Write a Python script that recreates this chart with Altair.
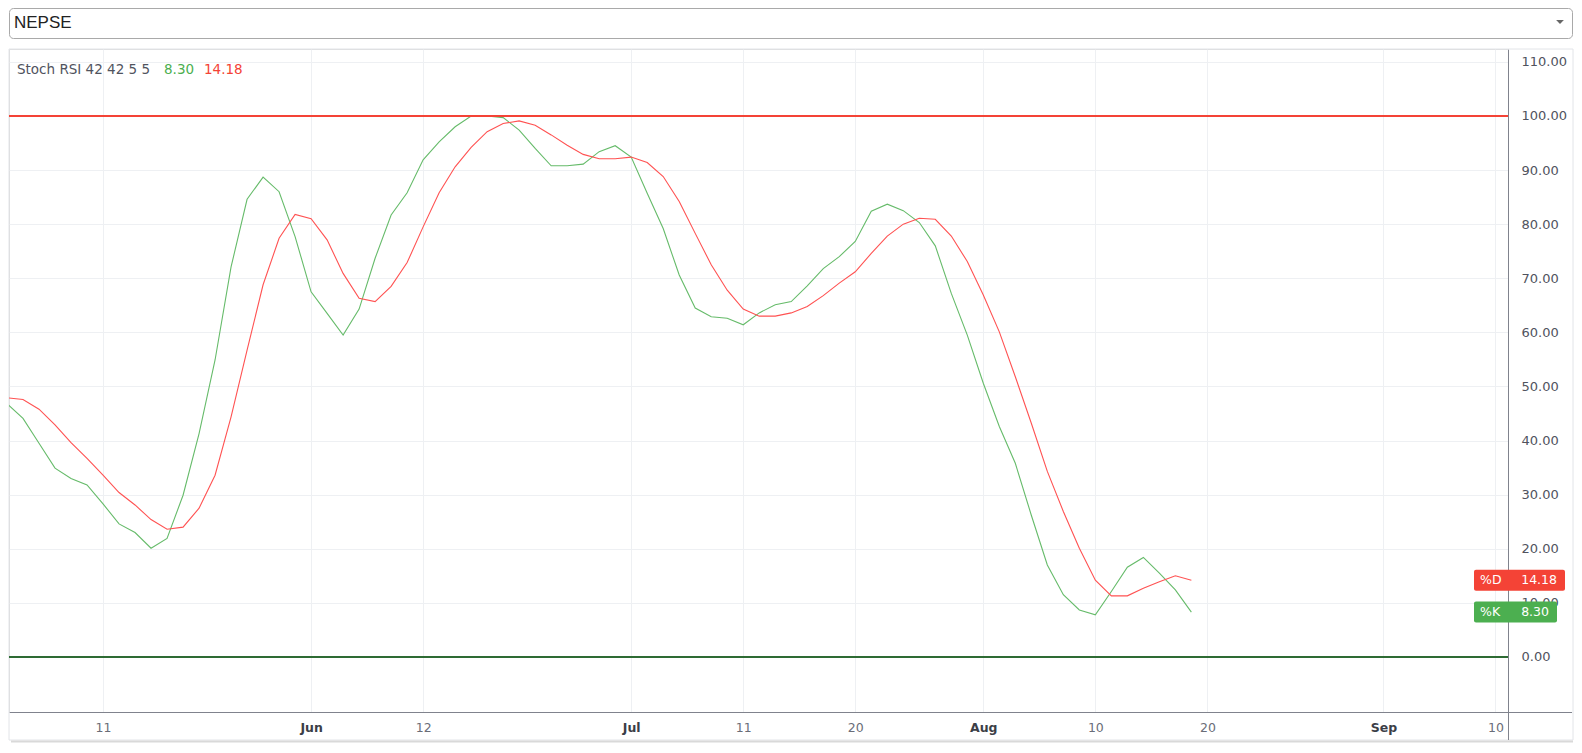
import altair as alt
import pandas as pd

# ---------------- data ----------------
symbol_name = "NEPSE"
indicator_title = "Stoch RSI 42 42 5 5"

k_values = [46.8, 44.1, 39.5, 34.9, 33.0, 31.8, 28.3, 24.6, 23.0, 20.1,
            21.9, 29.9, 41.3, 54.9, 72.1, 84.6, 88.7, 86.0, 77.7, 67.5,
            63.5, 59.5, 64.3, 73.7, 81.7, 85.8, 91.9, 95.2, 98.0, 100.0,
            100.0, 99.7, 97.4, 94.0, 90.8, 90.8, 91.1, 93.4, 94.5, 92.4,
            85.7, 79.2, 70.6, 64.5, 62.9, 62.6, 61.4, 63.6, 65.1, 65.7,
            68.6, 71.8, 74.0, 76.8, 82.4, 83.7, 82.5, 80.3, 76.0, 67.2,
            59.5, 50.6, 42.6, 35.8, 26.2, 17.0, 11.5, 8.7, 7.8, 12.1,
            16.6, 18.4, 15.5, 12.4, 8.30]

d_values = [47.9, 47.6, 45.8, 42.9, 39.6, 36.7, 33.6, 30.4, 28.1, 25.4,
            23.6, 24.0, 27.5, 33.6, 44.4, 56.7, 68.8, 77.4, 81.8, 81.0,
            77.1, 70.9, 66.3, 65.7, 68.5, 72.9, 79.5, 85.8, 90.6, 94.2,
            97.1, 98.6, 99.1, 98.3, 96.5, 94.6, 92.9, 92.1, 92.1, 92.4,
            91.4, 88.8, 84.2, 78.3, 72.5, 67.8, 64.3, 63.0, 63.0, 63.6,
            64.8, 66.8, 69.1, 71.2, 74.6, 77.8, 80.0, 81.1, 80.9, 77.8,
            73.1, 66.9, 60.1, 51.8, 43.2, 34.3, 26.9, 20.1, 14.2, 11.3,
            11.3, 12.7, 13.9, 15.0, 14.18]

bar_index = list(range(len(k_values)))

tick_index = [6, 19, 26, 39, 46, 53, 61, 68, 75, 86, 93]
tick_labels = ["11", "Jun", "12", "Jul", "11", "20", "Aug", "10", "20", "Sep", "10"]
month_ticks = [19, 39, 61, 86]

y_ticks = [0, 10, 20, 30, 40, 50, 60, 70, 80, 90, 100, 110]
upper_band = [100]
lower_band = [0]

k_last = 8.30
d_last = 14.18

# ---------------- styling ----------------
W, H = 1499, 663
FONT = "DejaVu Sans"
K_COLOR = "#66bb6a"
D_COLOR = "#ff5252"
K_BOX = "#4caf50"
D_BOX = "#f44336"
AXIS_LINE = "#80838d"
GRID = "#eef0f3"

x_scale = alt.Scale(domain=[0.125, 93.783], nice=False, zero=False)
y_scale = alt.Scale(domain=[-10.17, 112.38], nice=False, zero=False)

label_expr = "[" + ",".join("'%s'" % t for t in tick_labels) + "][indexof([" + \
    ",".join(str(t) for t in tick_index) + "], datum.value)]"
month_test = "indexof([" + ",".join(str(t) for t in month_ticks) + "], datum.value) >= 0"

x_axis = alt.Axis(
    values=tick_index, labelExpr=label_expr, title=None, grid=True,
    gridColor=GRID, domainColor=AXIS_LINE, ticks=False, labelPadding=9,
    labelFont=FONT, labelFontSize=12.5, labelFlush=False,
    labelColor={"condition": {"test": month_test, "value": "#3b3e47"}, "value": "#6a6d78"},
    labelFontWeight={"condition": {"test": month_test, "value": "bold"}, "value": "normal"},
)
y_axis = alt.Axis(
    orient="right", values=y_ticks, format=".2f", title=None, grid=True,
    gridColor=GRID, domainColor=AXIS_LINE, ticks=False, labelPadding=13,
    labelAlign="left", labelBaseline="middle", labelFont=FONT,
    labelFontSize=13, labelColor="#50535e", labelFlush=False,
)

n = len(bar_index)
df = pd.DataFrame({
    "i": bar_index + bar_index,
    "v": k_values + d_values,
    "s": ["%K"] * n + ["%D"] * n,
})

X = alt.X("i:Q", scale=x_scale, axis=x_axis)
Y = alt.Y("v:Q", scale=y_scale, axis=y_axis)

base = alt.Chart(df)

k_line = base.transform_filter("datum.s == '%K'").mark_line(
    color=K_COLOR, strokeWidth=1.1, clip=True).encode(x=X, y=Y)
d_line = base.transform_filter("datum.s == '%D'").mark_line(
    color=D_COLOR, strokeWidth=1.1, clip=True).encode(x=X, y=Y)

up_rule = alt.Chart(pd.DataFrame({"v": upper_band})).mark_rule(
    color="#f44336", strokeWidth=2).encode(y=Y)
low_rule = alt.Chart(pd.DataFrame({"v": lower_band})).mark_rule(
    color="#2e6b34", strokeWidth=2).encode(y=Y)

# panel frame + axis extensions
panel = alt.Chart(pd.DataFrame({"a": [0]})).mark_rect(
    fill="transparent", stroke="#e2e4e8", strokeWidth=1).encode(
    x=alt.value(0), x2=alt.value(1564), y=alt.value(0), y2=alt.value(691))
shadow = alt.Chart(pd.DataFrame({"a": [0]})).mark_rule(
    color="#d9d9d9", strokeWidth=2).encode(
    x=alt.value(2), x2=alt.value(1564), y=alt.value(692.5))
x_ext = alt.Chart(pd.DataFrame({"a": [0]})).mark_rule(
    color=AXIS_LINE, strokeWidth=1).encode(
    x=alt.value(W), x2=alt.value(1563), y=alt.value(H + 0.5))
y_ext = alt.Chart(pd.DataFrame({"a": [0]})).mark_rule(
    color=AXIS_LINE, strokeWidth=1).encode(
    x=alt.value(W + 0.5), y=alt.value(H), y2=alt.value(691))

# dropdown at top
dropdown = alt.Chart(pd.DataFrame({"a": [0]})).mark_rect(
    fill="white", stroke="#a9a9a9", strokeWidth=1, cornerRadius=4).encode(
    x=alt.value(0.5), x2=alt.value(1563.5), y=alt.value(-40.5), y2=alt.value(-10.5))
dropdown_text = alt.Chart(pd.DataFrame({"t": [symbol_name]})).mark_text(
    align="left", baseline="middle", font="Liberation Sans", fontSize=17,
    color="#222222").encode(text="t:N", x=alt.value(5), y=alt.value(-26))
dropdown_arrow = alt.Chart(pd.DataFrame({"a": [0]})).mark_point(
    shape="M-1,-0.5L1,-0.5L0,0.5Z", filled=True, size=60, color="#666666",
    opacity=1).encode(x=alt.value(1551), y=alt.value(-27))

# indicator legend
legend_df = pd.DataFrame({
    "t": [indicator_title, "%.2f" % k_last, "%.2f" % d_last],
    "c": ["#50535e", K_BOX, D_BOX],
    "px": [8, 155, 195],
})
legend = alt.Chart(legend_df).mark_text(
    align="left", baseline="middle", font=FONT, fontSize=13.5).encode(
    text="t:N", x=alt.X("px:Q", scale=None), y=alt.value(21),
    color=alt.Color("c:N", scale=None))

# last-value boxes on the price axis
d_box_df = pd.DataFrame({"v": [d_last], "n": ["%D"], "t": ["%.2f" % d_last]})
k_box_df = pd.DataFrame({"v": [k_last], "n": ["%K"], "t": ["%.2f" % k_last]})


def value_box(frame, color, x_end):
    rect = alt.Chart(frame).mark_rect(
        color=color, cornerRadius=2, yOffset=-10.5, y2Offset=10.5).encode(
        x=alt.value(1465), x2=alt.value(x_end + 8), y=Y, y2="v:Q")
    name = alt.Chart(frame).mark_text(
        align="left", baseline="middle", color="white", font=FONT,
        fontSize=12.5).encode(text="n:N", x=alt.value(1471), y=Y)
    val = alt.Chart(frame).mark_text(
        align="right", baseline="middle", color="white", font=FONT,
        fontSize=12.5).encode(text="t:N", x=alt.value(x_end), y=Y)
    return rect + name + val


d_box = value_box(d_box_df, D_BOX, 1548)
k_box = value_box(k_box_df, K_BOX, 1540)

chart = alt.layer(
    dropdown, dropdown_text, dropdown_arrow, panel, shadow,
    k_line, d_line, up_rule, low_rule, x_ext, y_ext, legend, d_box, k_box,
).properties(
    width=W, height=H, padding=0,
).configure_view(stroke=None).configure(background="white")

chart.save("out.html", embed_options={"renderer": "svg", "actions": False})
